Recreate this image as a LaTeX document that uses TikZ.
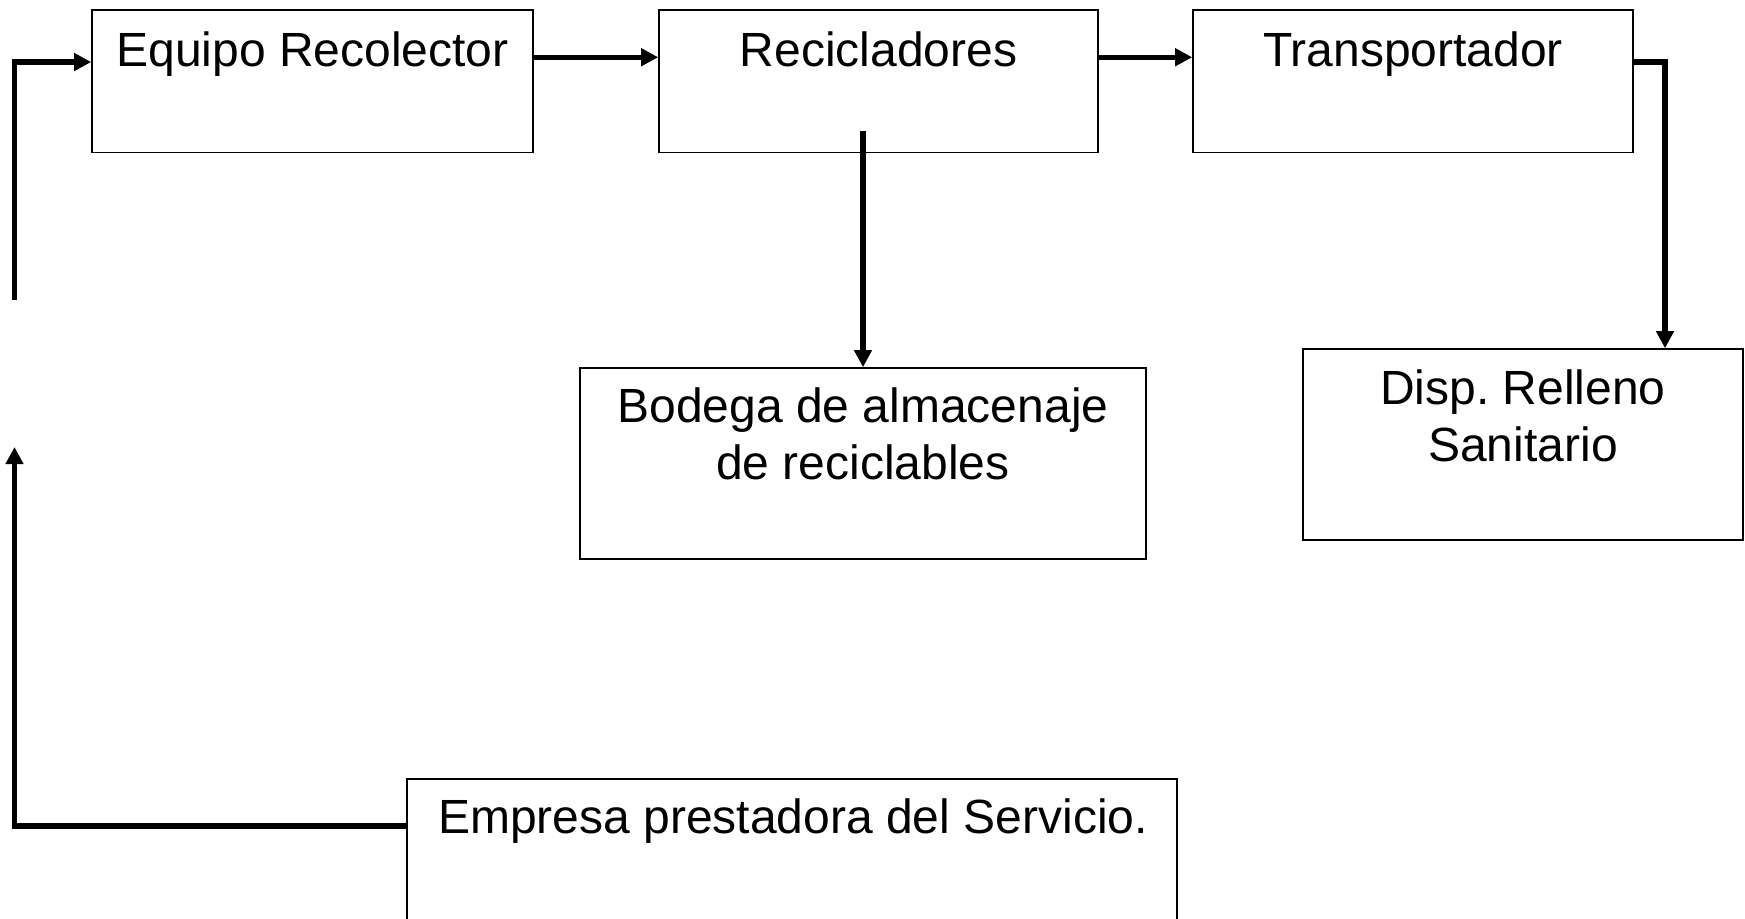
\documentclass[tikz,border=0pt]{standalone}
\usepackage{fontspec}
\setmainfont{Liberation Sans}
\usetikzlibrary{arrows.meta}
\begin{document}
\begin{tikzpicture}[x=0.5pt,y=-0.5pt,
  box/.style={draw, line width=0.8pt, rectangle, inner sep=0pt, minimum height=71.25pt},
  txt/.style={anchor=north, inner sep=0pt, align=center, font=\fontsize{24}{28.5}\selectfont},
  arr/.style={line width=2.6pt, -{Triangle[length=8.5pt,width=8.5pt]}}]
\useasboundingbox (0,0) rectangle (1745,919);
\node[box, minimum width=220.5pt] (eq) at (312.5,81.25) {};
\node[box, minimum width=219.5pt] (rec) at (878.5,81.25) {};
\node[box, minimum width=220pt] (tr) at (1413,81.25) {};
\node[box, minimum width=283pt, minimum height=95.5pt] (bod) at (863,463.5) {};
\node[box, minimum width=220pt, minimum height=95.5pt] (disp) at (1523,444.5) {};
\node[box, minimum width=385pt, minimum height=100.5pt] (emp) at (792.25,879.5) {};
\node[txt] (eqt) at (312.5,31) {Equipo Recolector};
\node[txt] (rect) at (878.5,31) {Recicladores};
\node[txt] (trt) at (1413,31) {Transportador};
\node[txt] (bodt) at (863,387) {Bodega de almacenaje\\de reciclables};
\node[txt] (dispt) at (1523,369) {Disp.\ Relleno\\Sanitario};
\node[txt] (empt) at (793,798) {Empresa prestadora del Servicio.};
\coordinate (lo) at (14.5,447);
\coordinate (hi) at (14.5,300);
\coordinate (rb) at (bod.north |- rec.south);
\draw[arr] ([yshift=12pt]eq.east) -- ([yshift=12pt]rec.west);
\draw[arr] ([yshift=12pt]rec.east) -- ([yshift=12pt]tr.west);
\draw[arr] ([yshift=9.6pt]tr.east) -| ([xshift=71pt]disp.north);
\draw[arr] ([yshift=11pt]rb) -- (bod.north);
\draw[arr] ([yshift=26.75pt]emp.west) -| (lo);
\draw[arr] (hi) |- ([yshift=9.6pt]eq.west);
\end{tikzpicture}
\end{document}
